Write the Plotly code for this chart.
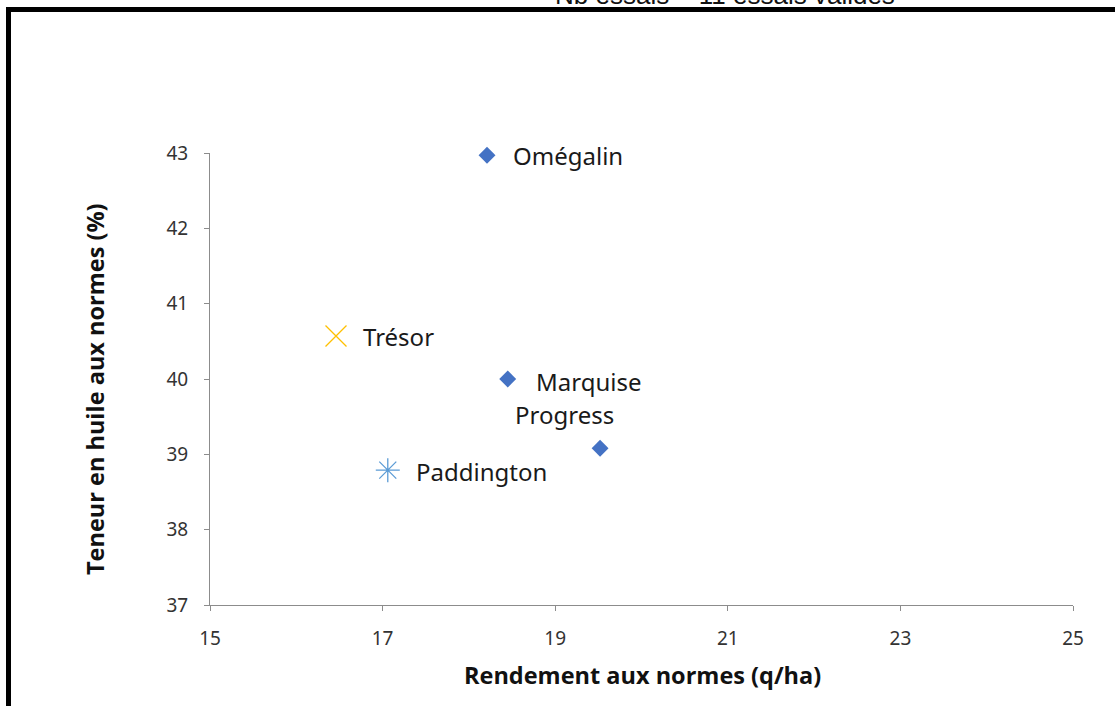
import plotly.graph_objects as go

# ---- data ----
varieties = ["Omégalin", "Trésor", "Marquise", "Progress", "Paddington"]
rendement = [18.21, 16.46, 18.45, 19.52, 17.06]
teneur_huile = [42.97, 40.57, 40.00, 39.08, 38.79]
x_ticks = [15, 17, 19, 21, 23, 25]
y_ticks = [37, 38, 39, 40, 41, 42, 43]
subtitle = "Nb essais = 11 essais validés"
x_title = "Rendement aux normes (q/ha)"
y_title = "Teneur en huile aux normes (%)"

# ---- styles (not data) ----
marker_styles = {
    "Omégalin": dict(symbol="diamond", size=13, color="#4472C4"),
    "Trésor": dict(symbol="x-thin-open", size=21, color="#FFC000", line=dict(color="#FFC000", width=1.3)),
    "Marquise": dict(symbol="diamond", size=13, color="#4472C4"),
    "Progress": dict(symbol="diamond", size=13, color="#4472C4"),
    "Paddington": dict(symbol="asterisk-open", size=20, color="#5B9BD5", line=dict(color="#5B9BD5", width=1.3)),
}
# label offsets in pixels (xshift, yshift, xanchor)
label_offsets = {
    "Omégalin": (24, 0, "left"),
    "Trésor": (25, 0, "left"),
    "Marquise": (26, -2, "left"),
    "Progress": (-36, 34, "center"),
    "Paddington": (26, -1, "left"),
}

LABEL_FONT = "Noto Sans"
TICK_FONT = "Noto Sans"
TITLE_FONT = "Open Sans"

PAD = 0  # body margin removed via post_script
W, H = 1115 - PAD, 706 - PAD
ML, MR, MT, MB = 210 - PAD, 42, 153 - PAD, 101
PW, PH = W - ML - MR, H - MT - MB


def px_to_paper_x(px):
    return (px - PAD - ML) / PW


def px_to_paper_y(py):
    return (PAD + MT + PH - py) / PH


fig = go.Figure()
for name, xv, yv in zip(varieties, rendement, teneur_huile):
    fig.add_trace(go.Scatter(x=[xv], y=[yv], mode="markers", name=name,
                             marker=marker_styles[name], showlegend=False,
                             cliponaxis=False, hoverinfo="skip"))
    dx, dy, anchor = label_offsets[name]
    fig.add_annotation(x=xv, y=yv, xref="x", yref="y", text=name, showarrow=False,
                       xanchor=anchor, yanchor="middle", xshift=dx, yshift=dy,
                       font=dict(family=LABEL_FONT, size=24, color="#1a1a1a"))

axis_common = dict(showgrid=False, zeroline=False, showline=True, linecolor="#8c8c8c",
                   linewidth=1, ticks="outside", ticklen=5, tickcolor="#8c8c8c",
                   tickfont=dict(family=TICK_FONT, size=19, color="#333333"))

fig.update_xaxes(range=[15, 25], tickvals=x_ticks, ticktext=[str(t) for t in x_ticks],
                 ticklabelstandoff=11, **axis_common)
fig.update_yaxes(range=[37, 43], tickvals=y_ticks, ticktext=[str(t) for t in y_ticks],
                 ticklabelstandoff=12, **axis_common)

# axis titles
fig.add_annotation(xref="paper", yref="paper", x=px_to_paper_x(642), y=px_to_paper_y(675),
                   text="<b>%s</b>" % x_title, showarrow=False, xanchor="center", yanchor="middle",
                   font=dict(family=TITLE_FONT, size=23.5, color="#111111"))
fig.add_annotation(xref="paper", yref="paper", x=px_to_paper_x(95), y=px_to_paper_y(389),
                   text="<b>%s</b>" % y_title, showarrow=False, xanchor="center", yanchor="middle",
                   textangle=-90, font=dict(family=TITLE_FONT, size=23.5, color="#111111"))

# outer black frame (partially cut off, like the reference crop)
fig.add_shape(type="rect", xref="paper", yref="paper",
              x0=px_to_paper_x(8.5), x1=1.2, y0=-0.3, y1=px_to_paper_y(9.5),
              line=dict(color="black", width=5), fillcolor="rgba(0,0,0,0)", layer="above")

fig.add_annotation(xref="paper", yref="paper", x=px_to_paper_x(725), y=px_to_paper_y(9.5),
                   text=subtitle, showarrow=False, xanchor="center", yanchor="bottom", yshift=-3,
                   font=dict(family="Liberation Sans", size=26, color="#111111"))

fig.update_layout(width=W, height=H, plot_bgcolor="white", paper_bgcolor="white",
                  margin=dict(l=ML, r=MR, t=MT, b=MB))

fig.write_html("out.html", config={"displayModeBar": False},
               post_script="document.body.style.margin='0';document.body.style.overflow='hidden';")
